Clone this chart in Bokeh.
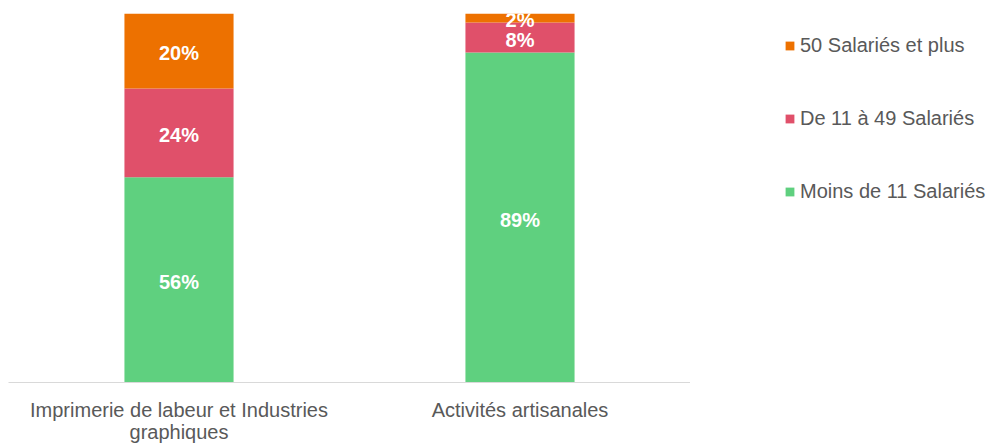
from bokeh.plotting import figure
from bokeh.models import ColumnDataSource, Legend, LegendItem, LabelSet, FactorRange, CategoricalAxis
from bokeh.layouts import row
from bokeh.embed import file_html
from bokeh.resources import INLINE
from bokeh.core.properties import value

categories = ["Imprimerie de labeur et Industries graphiques", "Activités artisanales"]
label_line1 = ["Imprimerie de labeur et Industries", "Activités artisanales"]
label_line2 = ["graphiques", " "]
series_names = ["Moins de 11 Salariés", "De 11 à 49 Salariés", "50 Salariés et plus"]
moins_11 = [55.6, 89.4]
de_11_49 = [24.1, 8.15]
plus_50 = [20.3, 2.45]
colors = ["#5FD07F", "#E0506A", "#ED7100"]

FONT = "Liberation Sans"
GREY = "#595959"

p = figure(x_range=FactorRange(*label_line1, range_padding=0), y_range=(0, 100),
           width=690, height=445, output_backend="svg", toolbar_location=None,
           min_border_left=8, min_border_right=0, min_border_top=13, min_border_bottom=61)
p.extra_x_ranges = {"line2": FactorRange(*label_line2, range_padding=0)}

series = [moins_11, de_11_49, plus_50]
bottom = [0.0, 0.0]
for name, vals, col in zip(series_names, series, colors):
    top = [b + v for b, v in zip(bottom, vals)]
    mid = [(b + t) / 2 for b, t in zip(bottom, top)]
    src = ColumnDataSource(dict(x=label_line1, bottom=bottom, top=top, mid=mid,
                                label=[f"{round(v)}%" for v in vals]))
    p.vbar(x="x", bottom="bottom", top="top", width=0.32, color=col, line_color=None, source=src)
    lab = LabelSet(x="x", y="mid", text="label", source=src, text_align="center", text_baseline="middle",
                   y_offset=-2, text_color="white", text_font=value(FONT), text_font_style="bold",
                   text_font_size="20px")
    p.add_layout(lab)
    bottom = top

def style_axis(ax, standoff):
    ax.major_label_text_font = FONT
    ax.major_label_text_font_size = "20px"
    ax.major_label_text_color = GREY
    ax.major_label_standoff = standoff
    ax.major_tick_line_color = None
    ax.minor_tick_line_color = None

ax1 = p.xaxis[0]
style_axis(ax1, 10)
ax1.axis_line_color = "#D9D9D9"
ax1.axis_line_width = 1

ax2 = CategoricalAxis(x_range_name="line2")
style_axis(ax2, -9)
ax2.axis_line_color = None
p.add_layout(ax2, "below")

p.yaxis.visible = False
p.xgrid.grid_line_color = None
p.ygrid.grid_line_color = None
p.outline_line_color = None

# legend panel
lg = figure(width=299, height=445, x_range=(0, 1), y_range=(0, 1), output_backend="svg",
            toolbar_location=None, min_border=0)
lg.axis.visible = False
lg.grid.visible = False
lg.outline_line_color = None
items = []
for name, col in reversed(list(zip(series_names, colors))):
    r = lg.vbar(x=[0.5], bottom=[0], top=[0], width=0.01, color=col, line_color=None)
    items.append(LegendItem(label=name, renderers=[r]))
legend = Legend(items=items, location=(94, 179), glyph_width=11, glyph_height=11,
                label_height=20, spacing=50, padding=0, margin=0, label_standoff=5,
                label_text_font=FONT, label_text_font_size="20px", label_text_color=GREY,
                border_line_color=None, background_fill_alpha=0)
lg.add_layout(legend, "center")

layout = row(p, lg)
open("out.html", "w").write(file_html(layout, INLINE))
